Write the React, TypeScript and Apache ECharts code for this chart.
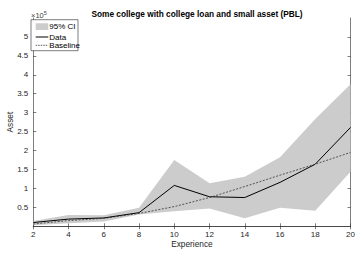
import React, { useEffect, useRef } from "react";
import * as echarts from "echarts";

const experience = ["2", "4", "6", "8", "10", "12", "14", "16", "18", "20"];
const dataValues = [0.1, 0.19, 0.22, 0.36, 1.08, 0.78, 0.76, 1.16, 1.64, 2.61];
const baselineValues = [0.06, 0.15, 0.21, 0.34, 0.52, 0.76, 1.05, 1.35, 1.64, 1.95];
const ciUpper = [0.14, 0.3, 0.29, 0.49, 1.75, 1.14, 1.31, 1.82, 2.83, 3.75];
const ciLower = [0.03, 0.08, 0.13, 0.31, 0.4, 0.47, 0.21, 0.49, 0.41, 1.44];
const yTickValues = [0.5, 1, 1.5, 2, 2.5, 3, 3.5, 4, 4.5, 5];
const legendNames = ["95% CI", "Data", "Baseline"];

const FONT = "Liberation Sans, Arial, Helvetica, sans-serif";
const AX = "#262626";

export default function App() {
  const ref = useRef<HTMLDivElement>(null);
  useEffect(() => {
    if (!ref.current) return;
    const chart = echarts.init(ref.current, null, { renderer: "svg" });
    const ciDiff = ciUpper.map((u, i) => +(u - ciLower[i]).toFixed(3));
    const axisLine = { show: true, lineStyle: { color: AX, width: 0.6 } };
    const tick = { show: true, inside: true, length: 3, lineStyle: { color: AX, width: 0.6 } };
    const yTick = { ...tick, customValues: yTickValues };
    const lx = 31, ly = 19.7, lw = 47, lh = 31;
    const rowY = [26.7, 37, 45.3];
    const legendGraphic: any[] = [
      {
        type: "rect",
        shape: { x: lx, y: ly, width: lw, height: lh },
        style: { fill: "#fff", stroke: AX, lineWidth: 0.6 },
        z: 100,
      },
      {
        type: "rect",
        shape: { x: 35.7, y: 23.3, width: 12.6, height: 6.7 },
        style: { fill: "#cccccc" },
        z: 101,
      },
      {
        type: "line",
        shape: { x1: 35.7, y1: rowY[1], x2: 48.3, y2: rowY[1] },
        style: { stroke: "#000", lineWidth: 1 },
        z: 101,
      },
      {
        type: "line",
        shape: { x1: 35.7, y1: rowY[2], x2: 48.3, y2: rowY[2] },
        style: { stroke: "#333", lineWidth: 0.8, lineDash: [1.5, 1] },
        z: 101,
      },
      ...legendNames.map((n, i) => ({
        type: "text",
        x: 49.3,
        y: rowY[i],
        style: {
          text: n,
          fill: "#000",
          fontSize: 8,
          fontFamily: FONT,
          verticalAlign: "middle",
          align: "left",
        },
        z: 101,
      })),
    ];
    chart.setOption({
      animation: false,
      textStyle: { fontFamily: FONT },
      title: {
        text: "Some college with college loan and small asset (PBL)",
        left: 192,
        textAlign: "center",
        top: 5,
        textStyle: { fontSize: 8.3, fontWeight: "bold", color: "#000", fontFamily: FONT },
      },
      graphic: [
        {
          type: "text",
          x: 31,
          y: 15,
          style: {
            text: "×10{s|5}",
            fill: "#444",
            fontSize: 7.5,
            fontFamily: FONT,
            verticalAlign: "middle",
            rich: { s: { fontSize: 5.5, verticalAlign: "top", padding: [0, 0, 5, 0], fill: "#444" } },
          },
        },
        ...legendGraphic,
      ],
      grid: {
        left: 33.3,
        right: 8.5,
        top: 18,
        bottom: 27.7,
        containLabel: false,
        outerBoundsMode: "none",
      },
      xAxis: [
        {
          type: "category",
          data: experience,
          boundaryGap: false,
          axisLine,
          axisTick: tick,
          axisLabel: { fontSize: 8, color: AX, margin: 4, fontFamily: FONT },
          name: "Experience",
          nameLocation: "middle",
          nameGap: 14,
          nameMoveOverlap: false,
          nameTextStyle: { fontSize: 8.3, color: AX, fontFamily: FONT },
          splitLine: { show: false },
        },
        {
          type: "category",
          data: experience,
          boundaryGap: false,
          position: "top",
          axisLine,
          axisTick: tick,
          axisLabel: { show: false },
          splitLine: { show: false },
        },
      ],
      yAxis: [
        {
          type: "value",
          min: 0,
          max: 5.5,
          interval: 0.5,
          axisLine,
          axisTick: yTick,
          axisLabel: {
            fontSize: 8,
            color: AX,
            margin: 5,
            fontFamily: FONT,
            customValues: yTickValues,
            showMaxLabel: true,
            showMinLabel: true,
            hideOverlap: false,
            formatter: (v: number) => String(+(+v).toFixed(1)),
          },
          name: "Asset",
          nameLocation: "middle",
          nameGap: 19,
          nameMoveOverlap: false,
          nameTextStyle: { fontSize: 8.3, color: AX, fontFamily: FONT },
          splitLine: { show: false },
        },
        {
          type: "value",
          min: 0,
          max: 5.5,
          interval: 0.5,
          position: "right",
          axisLine,
          axisTick: yTick,
          axisLabel: { show: false },
          splitLine: { show: false },
        },
      ],
      series: [
        {
          name: "lower",
          type: "line",
          stack: "ci",
          data: ciLower,
          symbol: "none",
          lineStyle: { width: 0, opacity: 0 },
          silent: true,
        },
        {
          name: "95% CI",
          type: "line",
          stack: "ci",
          data: ciDiff,
          symbol: "none",
          lineStyle: { width: 0, opacity: 0 },
          itemStyle: { color: "#cccccc" },
          areaStyle: { color: "#cccccc", opacity: 1 },
        },
        {
          name: "Data",
          type: "line",
          data: dataValues,
          symbol: "none",
          itemStyle: { color: "#000" },
          lineStyle: { color: "#000", width: 1 },
          z: 4,
        },
        {
          name: "Baseline",
          type: "line",
          data: baselineValues,
          symbol: "none",
          itemStyle: { color: "#333" },
          lineStyle: { color: "#333", width: 0.8, type: [2, 1.5] },
          z: 5,
        },
      ],
    });
    return () => chart.dispose();
  }, []);
  return <div ref={ref} style={{ width: 359, height: 254, position: "absolute", left: 0, top: 0 }} />;
}
